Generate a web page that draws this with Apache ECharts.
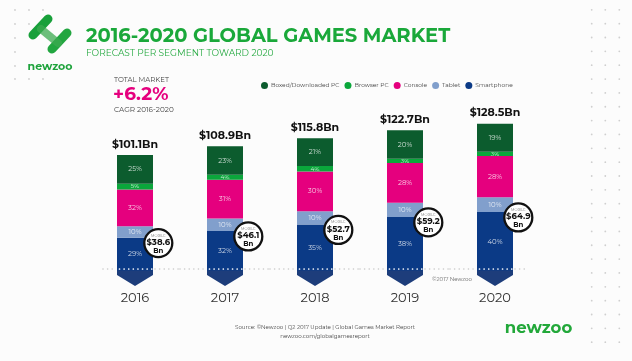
<!DOCTYPE html>
<html><head><meta charset="utf-8">
<script src="https://cdn.jsdelivr.net/npm/echarts@6/dist/echarts.min.js"></script>
<style>html,body{margin:0;padding:0;background:#fcfcfc}#c{width:632px;height:361px}</style>
</head><body><div id="c"></div>
<script>
const years = ['2016','2017','2018','2019','2020'];
const totals = [101.1, 108.9, 115.8, 122.7, 128.5];
const mobileBn = [38.6, 46.1, 52.7, 59.2, 64.9];
const pctSmartphone = [29, 32, 35, 38, 40];
const pctTablet = [10, 10, 10, 10, 10];
const pctConsole = [32, 31, 30, 28, 28];
const pctBrowser = [5, 4, 4, 3, 3];
const pctBoxed = [25, 23, 21, 20, 19];

const segs = [
  {name:'Smartphone', pct:pctSmartphone, color:'#0b3a86'},
  {name:'Tablet', pct:pctTablet, color:'#819fcc'},
  {name:'Console', pct:pctConsole, color:'#e5007e'},
  {name:'Browser PC', pct:pctBrowser, color:'#0aa73b'},
  {name:'Boxed/Downloaded PC', pct:pctBoxed, color:'#0c5c2e'}
];
const sumPct = years.map((y,i)=>segs.reduce((s,g)=>s+g.pct[i],0));
const segValue = (g,i)=> totals[i]*g.pct[i]/sumPct[i];

const FONT = 'Montserrat, "Open Sans", Roboto, sans-serif';

const barSeries = segs.map(g=>({
  name:g.name, type:'bar', stack:'t', barWidth:36,
  itemStyle:{color:g.color},
  data: years.map((y,i)=>segValue(g,i)),
  label:{show:true, position:'inside', color:'rgba(255,255,255,0.78)',
    fontSize: g.name==='Browser PC'?6:7, fontFamily:FONT,
    formatter: p=> g.pct[p.dataIndex]+'%'},
  emphasis:{disabled:true}
}));

const customData = years.map((y,i)=>[i, totals[i], mobileBn[i], segValue(segs[0],i)]);

const overlay = {
  type:'custom', name:'overlay', z:5, silent:true,
  data: customData,
  encode:{x:0,y:1},
  renderItem(params, api){
    const i = api.value(0);
    const total = api.value(1);
    const mob = api.value(2);
    const sTop = api.value(3);
    const base = api.coord([i,0]);
    const top = api.coord([i,total]);
    const st = api.coord([i,sTop]);
    const cx = base[0];
    const band = api.size([1,0])[0];
    const hw = 18;
    const by = base[1];
    const dotY = by - 2;
    const ch = [];
    ch.push({type:'polygon', shape:{points:[[cx-hw,by-0.5],[cx+hw,by-0.5],[cx+hw,by+4],[cx,by+15],[cx-hw,by+4]]}, style:{fill:'#1d3d7b'}});
    ch.push({type:'line', shape:{x1:cx-hw+2.5,y1:dotY,x2:cx+hw,y2:dotY}, style:{stroke:'#ffffff',lineWidth:1.7,lineDash:[0.01,4.6],lineCap:'round'}});
    const lx = i===0 ? cx-32 : cx-band/2;
    const rx = i===years.length-1 ? cx+30 : cx+band/2;
    ch.push({type:'line', shape:{x1:lx,y1:dotY,x2:cx-hw-1,y2:dotY}, style:{stroke:'#c9c9c9',lineWidth:1.6,lineDash:[0.01,4.6],lineCap:'round'}});
    ch.push({type:'line', shape:{x1:cx+hw+2,y1:dotY,x2:rx,y2:dotY}, style:{stroke:'#c9c9c9',lineWidth:1.6,lineDash:[0.01,4.6],lineCap:'round'}});
    ch.push({type:'text', style:{text:'$'+total.toFixed(1)+'Bn', x:cx, y:top[1]-10.5, align:'center', verticalAlign:'middle', font:'bold 11px '+FONT, fill:'#111'}});
    const ccx = cx+hw+5.3, ccy = st[1]+5.4;
    ch.push({type:'circle', shape:{cx:ccx,cy:ccy,r:14}, style:{fill:'#fff',stroke:'#111',lineWidth:2.3}});
    ch.push({type:'text', style:{text:'MOBILE', x:ccx, y:ccy-7.5, align:'center', verticalAlign:'middle', font:'3.5px '+FONT, fill:'#777'}});
    ch.push({type:'text', style:{text:'$'+mob.toFixed(1), x:ccx, y:ccy-0.5, align:'center', verticalAlign:'middle', font:'bold 8.5px '+FONT, fill:'#111'}});
    ch.push({type:'text', style:{text:'Bn', x:ccx, y:ccy+7.8, align:'center', verticalAlign:'middle', font:'bold 7px '+FONT, fill:'#111'}});
    return {type:'group', children:ch};
  }
};

// decorative dots
const deco = [];
const dotStep = 13.85;
for (let r=0;r<25;r++){
  for (const x of [591.7,605.3,619.3]){
    deco.push({type:'circle', shape:{cx:x, cy:9.8+r*dotStep, r:0.9}, style:{fill:'#cfcfcf'}, silent:true});
  }
}
const leftDots = [[15,10],[29,10],[43,10],[15,24],[29,24],[15,38],[15,52],[15,66],[15,79],[29,79],[43,79]];
leftDots.forEach(p=>deco.push({type:'circle', shape:{cx:p[0],cy:p[1],r:0.9}, style:{fill:'#cfcfcf'}, silent:true}));

const chart = echarts.init(document.getElementById('c'), null, {renderer:'canvas'});
chart.setOption({
  backgroundColor:'#fcfcfc',
  animation:false,
  grid:{left:90, right:92, top:99, bottom:90},
  xAxis:{type:'category', data:years, axisLine:{show:false}, axisTick:{show:false},
    axisLabel:{fontSize:13, color:'#333', margin:21, fontFamily:FONT}},
  yAxis:{type:'value', min:0, max:150, show:false},
  legend:{
    data:['Boxed/Downloaded PC','Browser PC','Console','Tablet','Smartphone'],
    left:256, top:77, icon:'circle', itemWidth:7, itemHeight:7, itemGap:5,
    textStyle:{fontSize:5.9, color:'#444', fontFamily:FONT, padding:[0,0,0,-2]},
    selectedMode:false
  },
  series:[...barSeries, overlay],
  graphic:[
    ...deco,
    // logo
    {type:'line', shape:{x1:33,y1:35,x2:48,y2:19}, style:{stroke:'#18a03a',lineWidth:9,lineCap:'round'}, silent:true},
    {type:'line', shape:{x1:52,y1:49,x2:67,y2:33}, style:{stroke:'#22a640',lineWidth:9,lineCap:'round'}, silent:true},
    {type:'line', shape:{x1:41,y1:29,x2:58,y2:43}, style:{stroke:'rgba(60,170,80,0.75)',lineWidth:8,lineCap:'round'}, silent:true},
    {type:'text', style:{text:'newzoo', x:50, y:67, align:'center', verticalAlign:'middle', font:'bold 11px '+FONT, fill:'#1ea33c'}, silent:true},
    // titles
    {type:'text', style:{text:'2016-2020 GLOBAL GAMES MARKET', x:86, y:36, verticalAlign:'middle', font:'bold 19.5px '+FONT, fill:'#1aa83a'}, silent:true},
    {type:'text', style:{text:'FORECAST PER SEGMENT TOWARD 2020', x:86, y:53.5, verticalAlign:'middle', font:'9px '+FONT, fill:'#2aab45'}, silent:true},
    // total market
    {type:'text', style:{text:'TOTAL MARKET', x:114, y:80, verticalAlign:'middle', font:'7px '+FONT, fill:'#444'}, silent:true},
    {type:'text', style:{text:'+6.2%', x:113, y:94.5, verticalAlign:'middle', font:'bold 18.5px '+FONT, fill:'#e5007e'}, silent:true},
    {type:'text', style:{text:'CAGR 2016-2020', x:114, y:110, verticalAlign:'middle', font:'7.3px '+FONT, fill:'#444'}, silent:true},
    // copyright
    {type:'text', style:{text:'©2017 Newzoo', x:432, y:279, verticalAlign:'middle', font:'5.5px '+FONT, fill:'#666'}, silent:true},
    // footer
    {type:'text', style:{text:'Source: ©Newzoo | Q2 2017 Update | Global Games Market Report', x:325, y:327.7, align:'center', verticalAlign:'middle', font:'5.5px '+FONT, fill:'#444'}, silent:true},
    {type:'text', style:{text:'newzoo.com/globalgamesreport', x:325, y:336.3, align:'center', verticalAlign:'middle', font:'5.5px '+FONT, fill:'#444'}, silent:true},
    {type:'text', style:{text:'newzoo', x:538.5, y:328, align:'center', verticalAlign:'middle', font:'bold 16.5px '+FONT, fill:'#22a83a'}, silent:true}
  ]
});
</script></body></html>
